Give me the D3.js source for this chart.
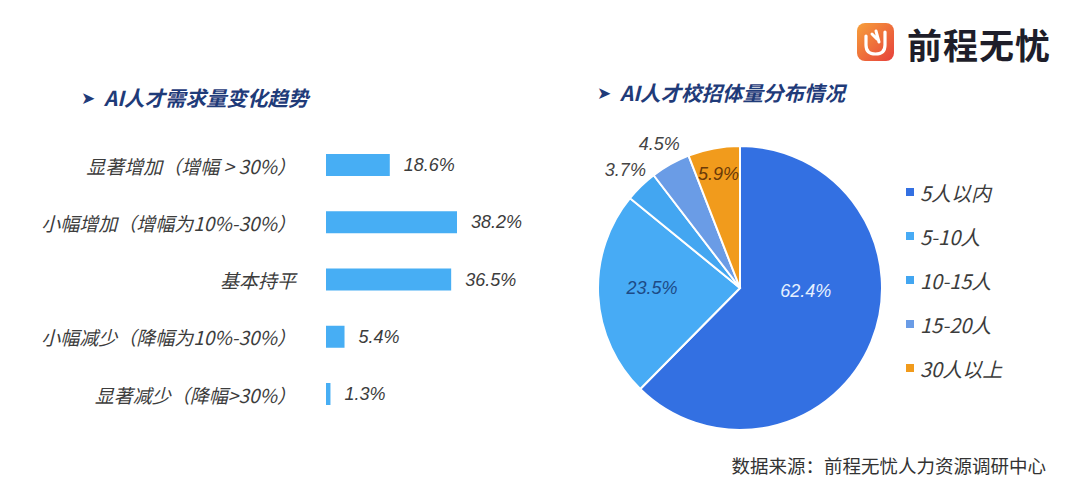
<!DOCTYPE html>
<html>
<head>
<meta charset="utf-8">
<script src="https://cdn.jsdelivr.net/npm/d3@7/dist/d3.min.js"></script>
<style>
  html, body { margin: 0; padding: 0; background: #fff; }
  svg { display: block; font-family: "Noto Sans CJK SC", "Noto Sans", sans-serif; }
</style>
</head>
<body>
<svg id="chart" width="1080" height="492"></svg>
<script>
// ---- data ----
const barCategories = ["显著增加（增幅 > 30%）", "小幅增加（增幅为10%-30%）", "基本持平", "小幅减少（降幅为10%-30%）", "显著减少（降幅>30%）"];
const barValues = [18.6, 38.2, 36.5, 5.4, 1.3];

const pieCategories = ["5人以内", "5-10人", "10-15人", "15-20人", "30人以上"];
const pieValues = [62.4, 23.5, 3.7, 4.5, 5.9];

const titleLeft = "AI人才需求量变化趋势";
const titleRight = "AI人才校招体量分布情况";
const sourceText = "数据来源：前程无忧人力资源调研中心";
const brandText = "前程无忧";

// ---- styles ----
const barColor = "#47AEF4";
const pieColors = ["#3370E2", "#47ABF5", "#43A6F1", "#6A9CE6", "#F19B1C"];
const pieLabelColors = ["#E6F0FF", "#1D4A86", "#444", "#444", "#6A3A08"];
const titleColor = "#1F3B79";
const textColor = "#3C3C3C";

const svg = d3.select("#chart");

// ---- titles ----
function title(x, y, txt) {
  const g = svg.append("g");
  g.append("text").attr("x", x).attr("y", y + 1)
    .attr("font-family", "DejaVu Sans").attr("font-size", 17).attr("fill", titleColor)
    .attr("dominant-baseline", "central").text("➤");
  g.append("text").attr("x", x + 23).attr("y", y)
    .attr("font-size", 20.5).attr("font-weight", "bold").attr("font-style", "italic")
    .attr("fill", titleColor).attr("dominant-baseline", "central").text(txt);
}
title(81, 97, titleLeft);
title(597, 92, titleRight);

// ---- bar chart ----
const x = d3.scaleLinear().domain([0, 38.2]).range([326, 457]);
const y = d3.scalePoint().domain(barCategories).range([165, 394]);
const barH = 22;

const bars = svg.append("g");
bars.selectAll("rect").data(barValues).join("rect")
  .attr("x", x(0))
  .attr("y", (d, i) => y(barCategories[i]) - barH / 2)
  .attr("width", d => x(d) - x(0))
  .attr("height", barH)
  .attr("fill", barColor);

bars.selectAll("text.cat").data(barCategories).join("text")
  .attr("class", "cat")
  .attr("x", 296)
  .attr("y", d => y(d))
  .attr("text-anchor", "end")
  .attr("dominant-baseline", "central")
  .attr("font-size", 19).attr("font-style", "italic")
  .attr("fill", textColor)
  .text(d => d);

bars.selectAll("text.val").data(barValues).join("text")
  .attr("class", "val")
  .attr("x", d => x(d) + 14)
  .attr("y", (d, i) => y(barCategories[i]))
  .attr("dominant-baseline", "central")
  .attr("font-family", "Liberation Sans, Arial, sans-serif")
  .attr("font-size", 18).attr("font-style", "italic")
  .attr("fill", textColor)
  .text(d => d.toFixed(1) + "%");

// ---- pie chart ----
const cx = 740, cy = 288, R = 142;
const pie = d3.pie().sort(null).value(d => d)(pieValues);
const arc = d3.arc().innerRadius(0).outerRadius(R);
const pg = svg.append("g").attr("transform", `translate(${cx},${cy})`);

pg.selectAll("path").data(pie).join("path")
  .attr("d", arc)
  .attr("fill", (d, i) => pieColors[i])
  .attr("stroke", "#fff").attr("stroke-width", 2);

// label radius factor per slice size (layout)
function labelRadius(d) {
  if (d.value < 5) return R * 1.16;
  if (d.value < 10) return R * 0.82;
  if (d.value < 30) return R * 0.62;
  return R * 0.5;
}
pg.selectAll("text").data(pie).join("text")
  .attr("transform", d => {
    const r = labelRadius(d);
    const c = d3.arc().innerRadius(r).outerRadius(r).centroid(d);
    const dy = d.value > 50 ? -24 : (d.value > 20 ? -5 : 0);
    return `translate(${c[0]},${c[1] + dy})`;
  })
  .attr("text-anchor", "middle")
  .attr("dominant-baseline", "central")
  .attr("font-family", "Liberation Sans, Arial, sans-serif")
  .attr("font-size", 18).attr("font-style", "italic")
  .attr("fill", (d, i) => pieLabelColors[i])
  .text(d => d.value.toFixed(1) + "%");

// ---- legend ----
const ly = d3.scalePoint().domain(pieCategories).range([192, 368]);
const lg = svg.append("g");
lg.selectAll("rect").data(pieCategories).join("rect")
  .attr("x", 906).attr("y", d => ly(d) - 4)
  .attr("width", 8).attr("height", 8)
  .attr("fill", (d, i) => pieColors[i]);
lg.selectAll("text").data(pieCategories).join("text")
  .attr("x", 920).attr("y", d => ly(d))
  .attr("dominant-baseline", "central")
  .attr("font-size", 20).attr("font-style", "italic")
  .attr("fill", textColor)
  .text(d => d);

// ---- source ----
svg.append("text").attr("x", 1046).attr("y", 465)
  .attr("text-anchor", "end").attr("dominant-baseline", "central")
  .attr("font-size", 18.5).attr("fill", "#333")
  .text(sourceText);

// ---- brand logo ----
const defs = svg.append("defs");
const grad = defs.append("linearGradient").attr("id", "logoGrad")
  .attr("x1", "0").attr("y1", "0").attr("x2", "1").attr("y2", "1");
grad.append("stop").attr("offset", "0%").attr("stop-color", "#F7A03A");
grad.append("stop").attr("offset", "100%").attr("stop-color", "#E6403C");
const logo = svg.append("g").attr("transform", "translate(857,23)");
logo.append("rect").attr("width", 37).attr("height", 38).attr("rx", 8).attr("fill", "url(#logoGrad)");
logo.append("path")
  .attr("d", "M9 13 L9 22 Q9 31 18.5 31 Q28 31 28 22 L28 9")
  .attr("fill", "none").attr("stroke", "#fff").attr("stroke-width", 3.2).attr("stroke-linecap", "round");
logo.append("path")
  .attr("d", "M15 11 L20 16 M19 8 L22 19")
  .attr("fill", "none").attr("stroke", "#fff").attr("stroke-width", 3).attr("stroke-linecap", "round");
svg.append("text").attr("x", 907).attr("y", 43)
  .attr("dominant-baseline", "central")
  .attr("font-size", 35).attr("font-weight", "bold")
  .attr("fill", "#1E1E2A").attr("letter-spacing", 1)
  .text(brandText);
</script>
</body>
</html>
